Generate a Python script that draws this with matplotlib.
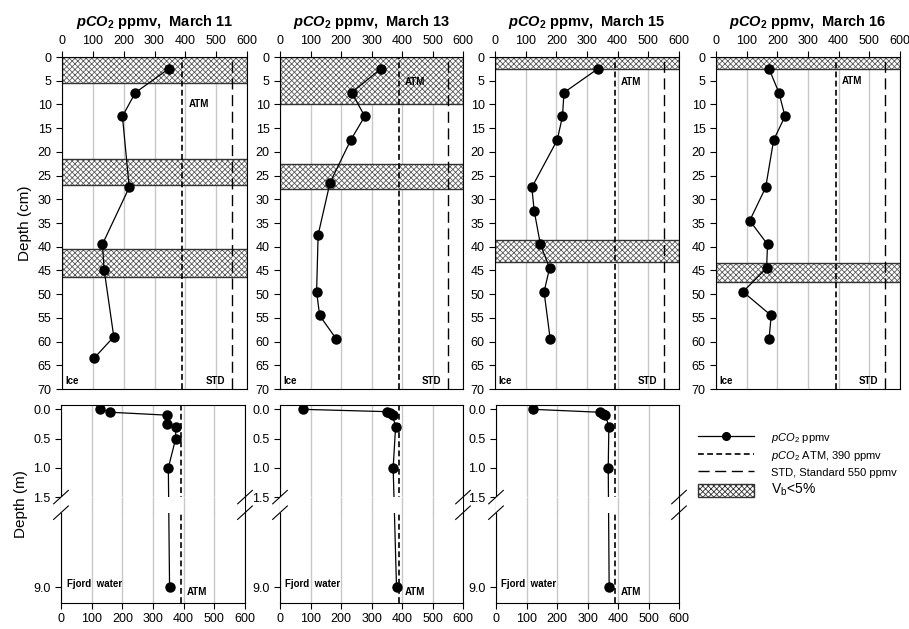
import numpy as np
import matplotlib.pyplot as plt
from matplotlib.lines import Line2D
from matplotlib.patches import Patch

plt.rcParams['font.family'] = ['Liberation Sans', 'DejaVu Sans']
plt.rcParams['mathtext.fontset'] = 'custom'
plt.rcParams['mathtext.rm'] = 'Liberation Sans'
plt.rcParams['mathtext.it'] = 'Liberation Sans:italic'
plt.rcParams['mathtext.bf'] = 'Liberation Sans:bold'
plt.rcParams['mathtext.bfit'] = 'Liberation Sans:bold:italic'
plt.rcParams['hatch.linewidth'] = 0.6

# ---- data ----
dates = ['March 11', 'March 13', 'March 15', 'March 16']
atm_ppmv = 390
std_ppmv = 550

ice_depth_11 = [2.5, 7.5, 12.5, 27.5, 39.5, 45, 59, 63.5]
ice_pco2_11 = [346, 238, 196, 218, 131, 137, 168, 104]
ice_depth_13 = [2.5, 7.5, 12.5, 17.5, 26.5, 37.5, 49.5, 54.5, 59.5]
ice_pco2_13 = [330, 235, 278, 232, 164, 125, 120, 130, 185]
ice_depth_15 = [2.5, 7.5, 12.5, 17.5, 27.5, 32.5, 39.5, 44.5, 49.5, 59.5]
ice_pco2_15 = [335, 225, 220, 203, 120, 128, 148, 178, 160, 180]
ice_depth_16 = [2.5, 7.5, 12.5, 17.5, 27.5, 34.5, 39.5, 44.5, 49.5, 54.5, 59.5]
ice_pco2_16 = [173, 205, 225, 188, 162, 110, 168, 165, 88, 180, 173]

# brine volume < 5 % layers (top, bottom) in cm
vb_11 = [(0, 5.5), (21.5, 27), (40.5, 46.3)]
vb_13 = [(0, 10), (22.5, 27.8)]
vb_15 = [(0, 2.5), (38.5, 43.2)]
vb_16 = [(0, 2.5), (43.5, 47.5)]

water_depth_11 = [0.0, 0.05, 0.1, 0.25, 0.3, 0.5, 1.0, 9.0]
water_pco2_11 = [128, 161, 347, 345, 374, 374, 350, 354]
water_depth_13 = [0.0, 0.04, 0.07, 0.1, 0.3, 1.0, 9.0]
water_pco2_13 = [74, 352, 360, 369, 379, 371, 382]
water_depth_15 = [0.0, 0.05, 0.075, 0.1, 0.3, 1.0, 9.0]
water_pco2_15 = [121, 341, 352, 359, 370, 368, 371]

ice = [(ice_depth_11, ice_pco2_11, vb_11), (ice_depth_13, ice_pco2_13, vb_13),
       (ice_depth_15, ice_pco2_15, vb_15), (ice_depth_16, ice_pco2_16, vb_16)]
water = [(water_depth_11, water_pco2_11), (water_depth_13, water_pco2_13),
         (water_depth_15, water_pco2_15)]

atm_text_depth = [10, 5.2, 5.3, 5.0]

# broken depth axis for the water panels
BREAK = 1.5
GAP_END = 2.8
K = 0.205


def fwd(d):
    d = np.asarray(d, float)
    return np.where(d <= BREAK, d, BREAK + (d - BREAK) * K)


def inv(y):
    y = np.asarray(y, float)
    return np.where(y <= BREAK, y, BREAK + (y - BREAK) / K)


fig = plt.figure(figsize=(9.09, 6.29), dpi=100)
W, H = 909.0, 629.0
top_x = [(62, 247), (280, 463), (495, 679), (716, 900)]
bot_x = [(61, 245), (280, 463), (496, 679)]

ATM_STYLE = dict(color='black', lw=1.2, ls=(0, (3.5, 2)))
STD_STYLE = dict(color='black', lw=1.0, ls=(0, (8, 4)))
DATA_STYLE = dict(color='black', lw=0.9, marker='o', ms=6.5)
GRID = '#c8c8c8'
HATCH = 'xxxxxx'

for i, (depth, pco2, bands) in enumerate(ice):
    x0, x1 = top_x[i]
    ax = fig.add_axes([x0 / W, 1 - 389 / H, (x1 - x0) / W, (389 - 57) / H])
    for a, b in bands:
        ax.axhspan(a, b, facecolor='white', edgecolor='#5a5a5a', hatch=HATCH, lw=0, zorder=1)
        ax.axhspan(a, b, fill=False, edgecolor='#333333', lw=1.0, zorder=1.1)
    ax.axvline(atm_ppmv, zorder=2, **ATM_STYLE)
    ax.axvline(std_ppmv, zorder=2, **STD_STYLE)
    ax.plot(pco2, depth, zorder=3, **DATA_STYLE)
    ax.set_xlim(0, 600)
    ax.set_ylim(70, 0)
    ax.set_xticks(range(0, 601, 100))
    ax.set_yticks(range(0, 71, 5))
    ax.xaxis.tick_top()
    ax.tick_params(labelsize=9, length=4, width=0.8)
    ax.grid(axis='x', color=GRID, lw=1)
    ax.set_axisbelow(True)
    ax.text(410, atm_text_depth[i], 'ATM', fontsize=7, fontweight='bold', va='center')
    ax.text(465, 68.3, 'STD', fontsize=7, fontweight='bold', va='center')
    ax.text(10, 68.3, 'Ice', fontsize=7, fontweight='bold', va='center')
    ax.set_title(r'$\mathbfit{pCO}_{\mathbf{2}}$ ppmv,  ' + dates[i],
                 fontsize=10.5, fontweight='bold', pad=22)
    if i == 0:
        ax.set_ylabel('Depth (cm)', fontsize=11, labelpad=4)

for i, (depth, pco2) in enumerate(water):
    x0, x1 = bot_x[i]
    ax = fig.add_axes([x0 / W, 1 - 603 / H, (x1 - x0) / W, (603 - 405) / H])
    ax.set_yscale('function', functions=(fwd, inv))
    ax.axvline(atm_ppmv, zorder=2, **ATM_STYLE)
    ax.plot(pco2, depth, zorder=3, **DATA_STYLE)
    ax.axhspan(BREAK, GAP_END, color='white', lw=0, zorder=4)
    ax.vlines(range(100, 600, 100), BREAK, GAP_END, color=GRID, lw=1, zorder=4.1)
    ax.set_xlim(0, 600)
    ax.set_ylim(10.33, -0.074)
    ax.set_xticks(range(0, 601, 100))
    ax.set_yticks([0, 0.5, 1.0, 1.5, 9.0])
    ax.set_yticklabels(['0.0', '0.5', '1.0', '1.5', '9.0'])
    ax.tick_params(labelsize=9, length=4, width=0.8)
    ax.grid(axis='x', color=GRID, lw=1)
    ax.set_axisbelow(True)
    ax.text(18, 8.75, 'Fjord  water', fontsize=7, fontweight='bold', va='center')
    ax.text(410, 9.4, 'ATM', fontsize=7, fontweight='bold', va='center')
    if i == 0:
        ax.set_ylabel('Depth (m)', fontsize=11, labelpad=4)
    # break marks on both spines
    tr = ax.transScale + ax.transLimits
    for dd in (BREAK, GAP_END):
        yy = tr.transform((0, dd))[1]
        for xx in (0, 1):
            ax.plot([xx - 0.04, xx + 0.04], [yy - 0.034, yy + 0.034], transform=ax.transAxes,
                    color='black', lw=0.8, clip_on=False, zorder=5)

handles = [
    Line2D([], [], color='black', lw=0.9, marker='o', ms=5.5),
    Line2D([], [], **ATM_STYLE),
    Line2D([], [], **STD_STYLE),
    Patch(facecolor='white', edgecolor='#333333', hatch=HATCH, lw=1),
]
labels = [r'$\mathit{pCO}_2$ ppmv', r'$\mathit{pCO}_2$ ATM, 390 ppmv',
          'STD, Standard 550 ppmv', r'V$_\mathrm{b}$<5%']
leg = fig.legend(handles, labels, loc='upper left', bbox_to_anchor=(688 / W, 1 - 421 / H),
                 frameon=False, fontsize=8, handlelength=5.0, handleheight=1.4,
                 labelspacing=0.3, handletextpad=1.6)
leg.get_texts()[3].set_fontsize(10)

fig.savefig('out.png', dpi=100)
